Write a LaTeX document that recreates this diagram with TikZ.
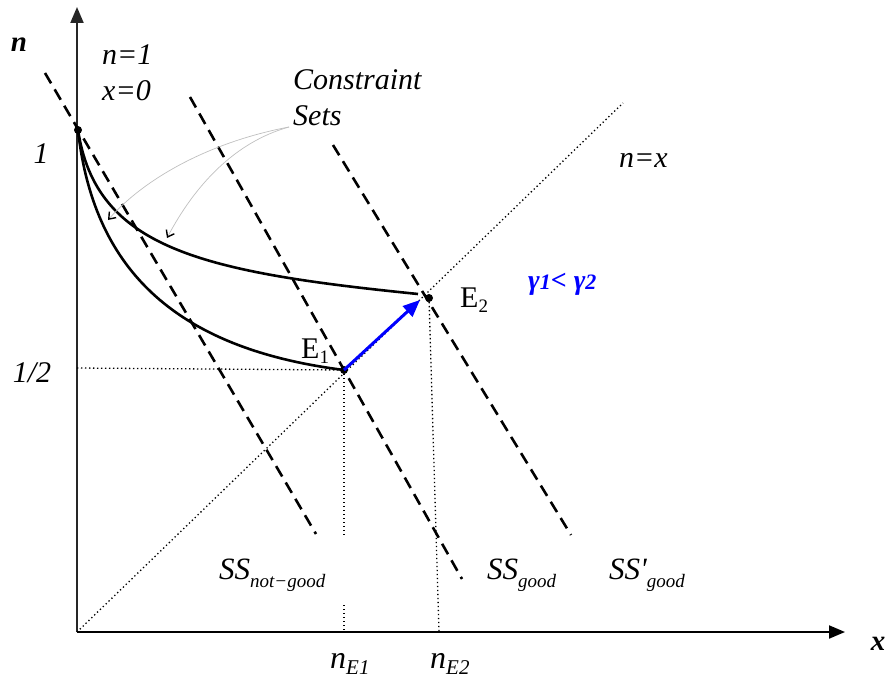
\documentclass[tikz,border=0pt]{standalone}
\usepackage{fontspec}
\setmainfont{Liberation Serif}
\usetikzlibrary{arrows.meta}
\newcommand\subtxt[3]{\raisebox{-#1}{\fontsize{#2}{#2}\selectfont #3}}

\begin{document}
\begin{tikzpicture}[x=1pt, y=-1pt,
  axis/.style={line width=2pt, -{Triangle[length=16pt,width=13pt]}},
  budget/.style={line width=2.6pt, dash pattern=on 12pt off 7pt},
  cset/.style={line width=2.6pt},
  guide/.style={line width=1.3pt, dash pattern=on 1.3pt off 2.7pt},
  pointer/.style={gray!50, line width=0.7pt,
    -{Straight Barb[length=6pt,width=9pt,line width=1.4pt,color=black]}},
  move/.style={blue, line width=3pt, -{Triangle[length=17pt,width=14pt]}},
  lbl/.style={inner sep=0pt, font=\fontsize{30}{34}\selectfont\itshape},
  axlbl/.style={inner sep=0pt, font=\fontsize{29}{34}\selectfont\bfseries\itshape},
  dot/.style={circle, fill, inner sep=0pt, minimum size=8pt}]
  \useasboundingbox (0,0) rectangle (890,682);
  % axes (pixel coordinates, y downwards)
  \coordinate (O) at (77,632);
  \coordinate (ytop) at (77,7);
  \coordinate (xend) at (845,632);
  \draw[axis, black!85] (O) -- (ytop);
  \draw[axis] (O) -- (xend);
  % points
  \node[dot] (one) at (78,130) {};
  \node[dot] (E1) at (344,370) {};
  \node[dot] (E2) at (429,298) {};
  % 45-degree line n=x
  \coordinate (diagEnd) at (623,103);
  \draw[guide] (O) -- (diagEnd);
  % dashed steady state lines
  \coordinate (ssA1) at (45,73);   \coordinate (ssA2) at (316,534);
  \coordinate (ssB1) at (190,97);  \coordinate (ssB2) at (462,579);
  \coordinate (ssC1) at (333,145); \coordinate (ssC2) at (571,535);
  \draw[budget] (ssA1) -- (ssA2);
  \draw[budget] (ssB1) -- (ssB2);
  \draw[budget] (ssC1) -- (ssC2);
  % constraint sets
  \draw[cset] (one.center) .. controls (93,265) and (170,348) .. (E1.center);
  \draw[cset] (one.center) .. controls (96,248) and (200,272) .. (418,294);
  % guides to the axes
  \coordinate (halfY) at (77,368);
  \coordinate (gapTop) at (344,537);
  \coordinate (gapBot) at (344,605);
  \coordinate (footE1) at (344,632);
  \coordinate (footE2) at (439,632);
  \draw[guide] (halfY) -- (E1.center);
  \draw[guide] (E1.center) -- (gapTop);
  \draw[guide] (gapBot) -- (footE1);
  \draw[guide] (E2.center) -- (footE2);
  % move from E1 to E2
  \draw[move] (E1.center) -- ([shift={(-9,2)}]E2.center);
  % labels
  \node[axlbl, anchor=base] (nAxis) at (19,52) {n};
  \node[axlbl, anchor=base] (xAxis) at (878,650) {x};
  \node[lbl, anchor=base west] (n1) at (102,65) {n=1};
  \node[lbl, anchor=base west] (x0) at (102,100) {x=0};
  \node[lbl, anchor=base west] (cons) at (293,89) {Constraint};
  \node[lbl, anchor=base west] (sets) at (293,125) {Sets};
  \node[lbl, anchor=base] (lblOne) at (41,163) {1};
  \node[lbl, anchor=base] (lblHalf) at (32,382) {1/2};
  \node[lbl, anchor=base west] (nx) at (619,167) {n=x};
  \node[inner sep=0pt, anchor=base west, blue,
    font=\fontsize{28}{32}\selectfont\bfseries\itshape] (gam) at (528,289)
    {γ\subtxt{0pt}{22}{1}< γ\subtxt{0pt}{22}{2}};
  \node[inner sep=0pt, anchor=base west, font=\fontsize{30}{34}\selectfont] (lblE2) at (460,307)
    {E\subtxt{5pt}{19}{2}};
  \node[inner sep=0pt, anchor=base west, font=\fontsize{30}{34}\selectfont] (lblE1) at (301,358)
    {E\subtxt{5pt}{19}{1}};
  \node[inner sep=0pt, anchor=base west, font=\fontsize{31}{34}\selectfont\itshape] (ssNot) at (219,579)
    {SS\subtxt{8pt}{19}{not−good}};
  \node[inner sep=0pt, anchor=base west, font=\fontsize{31}{34}\selectfont\itshape] (ssGood) at (487,579)
    {SS\subtxt{8pt}{19}{good}};
  \node[inner sep=0pt, anchor=base west, font=\fontsize{31}{34}\selectfont\itshape] (ssGood2) at (609,579)
    {SS\textquotesingle\subtxt{8pt}{19}{good}};
  \node[inner sep=0pt, anchor=base west, font=\fontsize{32}{34}\selectfont\itshape] (nE1) at (330,668)
    {n\subtxt{6pt}{21}{E1}};
  \node[inner sep=0pt, anchor=base west, font=\fontsize{32}{34}\selectfont\itshape] (nE2) at (430,668)
    {n\subtxt{6pt}{21}{E2}};
  % pointers from the "Constraint Sets" label
  \coordinate (ptA) at (108,220);
  \coordinate (ptB) at (167,238);
  \draw[pointer] (289,127) .. controls (210,142) and (145,178) .. (ptA);
  \draw[pointer] (289,127) .. controls (235,142) and (195,185) .. (ptB);
\end{tikzpicture}
\end{document}
